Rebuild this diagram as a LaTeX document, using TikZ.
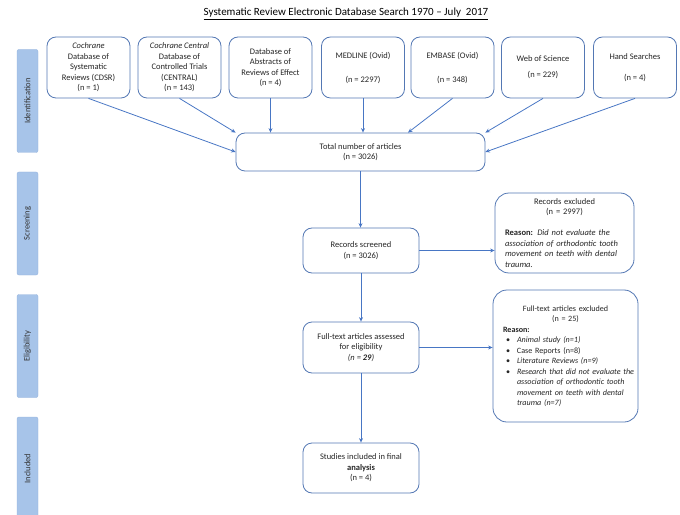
\documentclass[tikz,border=0pt]{standalone}
\usepackage{fontspec}
\setmainfont{Carlito}
\usetikzlibrary{arrows.meta,calc}

\definecolor{boxline}{RGB}{84,120,180}
\definecolor{flowline}{RGB}{72,118,196}
\definecolor{phasefill}{RGB}{167,196,233}
\definecolor{phaseline}{RGB}{150,180,222}

\newcommand{\bodyfont}{\fontsize{8.5bp}{10.5bp}\selectfont}
\newcommand{\notefont}{\fontsize{8.1bp}{10.5bp}\selectfont}
\newcommand{\bitem}[1]{\par\hangindent=14bp\hangafter=1\noindent\makebox[14bp][l]{\hspace{3bp}\textbullet}#1}

\tikzset{
  srcbox/.style={draw=boxline, line width=0.8pt, rounded corners=9bp, fill=white,
    minimum width=83bp, minimum height=61bp, inner sep=2bp, align=center,
    font=\bodyfont, text=black!85},
  flowbox/.style={draw=boxline, line width=0.8pt, rounded corners=9bp, fill=white,
    inner sep=2bp, align=center, font=\bodyfont, text=black!85},
  notebox/.style={draw=boxline, line width=0.8pt, rounded corners=14bp, fill=white,
    inner xsep=10bp, inner ysep=2bp, align=left, font=\bodyfont, text=black!85},
  phase/.style={draw=phaseline, line width=0.4pt, fill=phasefill, rounded corners=2bp,
    minimum width=21bp, minimum height=103bp, inner sep=0pt},
  phasetext/.style={rotate=90, font=\bodyfont, text=black!80},
  flow/.style={draw=flowline, line width=0.8pt, -{Stealth[length=4.5bp,width=4bp]}}
}

\begin{document}
\begin{tikzpicture}[x=1bp, y=-1bp]
  \useasboundingbox (0,0) rectangle (680,515);

  % heading
  \node (title) at (346,14) {\fontsize{11bp}{13bp}\selectfont\underline{Systematic Review Electronic Database Search 1970 -- July\ \ 2017}};

  % phase bars on the left
  \node[phase] (pid) at (27.5,101) {};
  \node[phasetext] (pidt) at (pid.center) {Identification};
  \node[phase] (psc) at (27.5,223.5) {};
  \node[phasetext] (psct) at (psc.center) {Screening};
  \node[phase] (pel) at (27.5,346) {};
  \node[phasetext] (pelt) at (pel.center) {Eligibility};
  \node[phase] (pin) at (27.5,468.5) {};
  \node[phasetext] (pint) at (pin.center) {Included};

  % database sources
  \node[srcbox] (b1) at (88.5,67.5) {\textit{Cochrane}\\Database of\\Systematic\\Reviews (CDSR)\\(n = 1)};
  \node[srcbox] (b2) at (179.5,67.5) {\textit{Cochrane Central}\\Database of\\Controlled Trials\\(CENTRAL)\\(n = 143)};
  \node[srcbox] (b3) at (270.5,67.5) {Database of\\Abstracts of\\Reviews of Effect\\(n = 4)};
  \node[srcbox] (b4) at (363,67.5) {MEDLINE (Ovid)\\[13.5bp](n = 2297)};
  \node[srcbox] (b5) at (452.5,67.5) {EMBASE (Ovid)\\[13.5bp](n = 348)};
  \node[srcbox] (b6) at (543,67.5) {Web of Science\\[5.5bp](n = 229)};
  \node[srcbox] (b7) at (635,67.5) {Hand Searches\\[10.5bp](n = 4)};

  % main flow
  \node[flowbox, minimum width=249bp, minimum height=38bp] (tot) at (360.5,152) {Total number of articles\\(n = 3026)};
  \node[flowbox, minimum width=116bp, minimum height=45bp] (scr) at (361,250.5) {Records screened\\(n = 3026)};
  \node[flowbox, minimum width=116bp, minimum height=51bp] (fta) at (361,347.5) {Full-text articles assessed\\for eligibility\\\textit{(n = \textbf{29})}};
  \node[flowbox, minimum width=116bp, minimum height=50bp] (inc) at (361,468) {Studies included in final\\\textbf{analysis}\\(n = 4)};

  % exclusion notes
  \node[notebox, text width=119bp, minimum height=80bp] (rex) at (564.5,233) {%
    \centering Records excluded\\(n = 2997)\par
    \vspace{10.5bp}\raggedright
    \textbf{Reason:} \textit{Did not evaluate the\\association of orthodontic tooth\\movement on teeth with dental\\trauma.}\par};
  \node[notebox, font=\notefont, text width=125bp, minimum height=132bp] (fte) at (565.5,356) {%
    \centering Full-text articles excluded\\(n = 25)\par
    \raggedright\noindent\textbf{Reason:}
    \bitem{\textit{Animal study (n=1)}}
    \bitem{Case Reports (n=8)}
    \bitem{\textit{Literature Reviews (n=9)}}
    \bitem{\textit{\mbox{Research that did not evaluate the}\newline \mbox{association of orthodontic tooth}\newline \mbox{movement on teeth with dental}\newline trauma (n=7)}}\par};

  % sources into the total
  \draw[flow] (b1.south) -- (tot.west);
  \draw[flow] (b2.south) -- (tot.north west);
  \draw[flow] (b3.south) -- (b3.south |- tot.north);
  \draw[flow] (b4.south) -- (b4.south |- tot.north);
  \draw[flow] (b5.south) -- ($(tot.north)+(47.5,0)$);
  \draw[flow] (b6.south) -- (tot.north east);
  \draw[flow] (b7.south) -- (tot.east);

  % vertical flow and exclusions
  \draw[flow] (tot.south) -- (tot.south |- scr.north);
  \draw[flow] (scr.east) -- (scr.east -| rex.west);
  \draw[flow] (scr.south) -- (scr.south |- fta.north);
  \draw[flow] (fta.east) -- (fta.east -| fte.west);
  \draw[flow] (fta.south) -- (fta.south |- inc.north);
\end{tikzpicture}
\end{document}
